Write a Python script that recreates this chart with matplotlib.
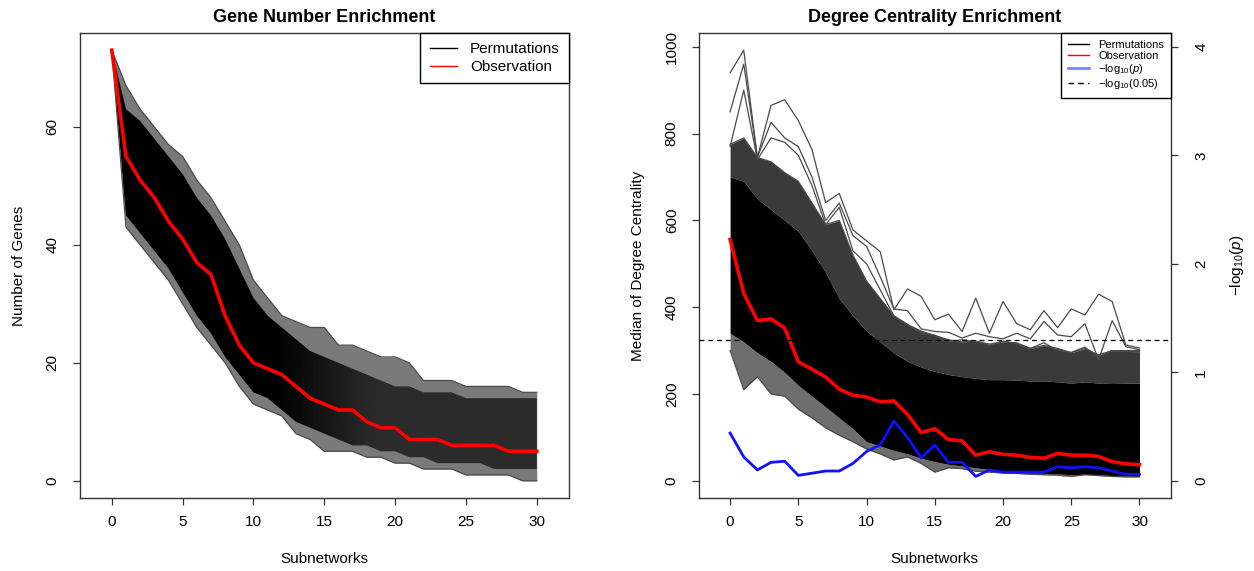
#!/usr/bin/env python3
"""
Gene number / degree centrality enrichment across subnetworks
(permutations vs. observation), redrawn with matplotlib.
"""

import numpy as np
import matplotlib
matplotlib.use("Agg")
import matplotlib.pyplot as plt
from matplotlib.lines import Line2D

plt.rcParams['font.family'] = ['Liberation Sans', 'DejaVu Sans']
plt.rcParams['mathtext.fontset'] = 'custom'
plt.rcParams['mathtext.rm'] = 'Liberation Sans'
plt.rcParams['mathtext.it'] = 'Liberation Sans:italic'

# ---------------- data ----------------
subnetworks = list(range(31))

# Gene Number Enrichment
gene_obs = [73, 55, 51, 48, 44, 41, 37, 35, 28, 23, 20, 19, 18, 16, 14, 13,
            12, 12, 10, 9, 9, 7, 7, 7, 6, 6, 6, 6, 5, 5, 5]
gene_perm_max = [73, 67, 63, 60, 57, 55, 51, 48, 44, 40, 34, 31, 28, 27, 26, 26,
                 23, 23, 22, 21, 21, 20, 17, 17, 17, 16, 16, 16, 16, 15, 15]
gene_perm_core_hi = [73, 63, 61, 58, 55, 52, 48, 45, 41, 36, 31, 28, 26, 24, 22, 21,
                     20, 19, 18, 17, 16, 16, 15, 15, 15, 14, 14, 14, 14, 14, 14]
gene_perm_core_lo = [73, 45, 42, 39, 36, 32, 28, 25, 21, 18, 15, 14, 12, 10, 9, 8,
                     7, 6, 6, 5, 5, 4, 4, 3, 3, 3, 3, 2, 2, 2, 2]
gene_perm_min = [73, 43, 40, 37, 34, 30, 26, 23, 20, 16, 13, 12, 11, 8, 7, 5,
                 5, 5, 4, 4, 3, 3, 2, 2, 2, 1, 1, 1, 1, 0, 0]

# Degree Centrality Enrichment
deg_obs = [556, 432, 369, 373, 352, 274, 257, 239, 211, 197, 193, 182, 184, 153, 111, 120,
           95, 92, 59, 67, 61, 59, 54, 52, 63, 59, 59, 56, 44, 39, 37]
deg_neglog_p = [0.44, 0.22, 0.10, 0.17, 0.18, 0.05, 0.07, 0.09, 0.09, 0.16, 0.27, 0.33,
                0.55, 0.40, 0.21, 0.33, 0.17, 0.17, 0.04, 0.10, 0.08, 0.08, 0.08, 0.08,
                0.13, 0.12, 0.13, 0.12, 0.09, 0.06, 0.06]
deg_perm_peak_a = [940, 992, 745, 865, 878, 830, 763, 641, 662, 578, 553, 528, 394, 442, 425, 371,
                   384, 344, 421, 340, 413, 362, 348, 392, 353, 396, 382, 430, 413, 313, 306]
deg_perm_peak_b = [850, 960, 745, 826, 790, 770, 700, 600, 640, 565, 540, 470, 396, 392, 350, 344,
                   342, 329, 340, 332, 327, 340, 327, 367, 336, 332, 362, 279, 369, 309, 302]
deg_perm_peak_c = [770, 900, 740, 790, 780, 750, 680, 590, 630, 530, 500, 440, 380, 360, 340, 335,
                   320, 325, 320, 312, 322, 315, 305, 318, 300, 296, 308, 285, 300, 298, 295]
deg_perm_band_hi = [775, 790, 745, 735, 710, 690, 640, 590, 600, 520, 460, 420, 380, 360, 345, 335,
                    325, 320, 322, 315, 320, 318, 305, 312, 305, 295, 305, 290, 300, 300, 300]
deg_perm_core_hi = [700, 690, 650, 625, 600, 575, 530, 480, 420, 380, 345, 320, 295, 275, 262, 252,
                    245, 240, 236, 233, 233, 232, 230, 230, 228, 225, 228, 225, 226, 225, 225]
deg_perm_core_lo = [340, 320, 295, 275, 250, 220, 195, 170, 145, 120, 90, 80, 70, 62, 52, 44,
                    38, 34, 30, 26, 22, 20, 18, 17, 16, 14, 15, 14, 12, 11, 10]
deg_perm_min = [300, 210, 240, 200, 195, 165, 145, 122, 105, 90, 73, 62, 48, 55, 40, 20,
                30, 28, 22, 20, 18, 17, 15, 14, 13, 10, 14, 12, 10, 9, 9]
sig_level = 0.05

x_ticks = [0, 5, 10, 15, 20, 25, 30]
gene_y_ticks = [0, 20, 40, 60]
deg_y_ticks = [0, 200, 400, 600, 800, 1000]
p_y_ticks = [0, 1, 2, 3, 4]

PERM_GREY = '#4a4a4a'
AX_COLOR = '#333333'
XLIM = (-2.28, 32.28)


def r_style(ax, yticks):
    """R base-graphics look: full box, outward ticks, vertical y labels."""
    for sp in ax.spines.values():
        sp.set_linewidth(1.0)
        sp.set_color(AX_COLOR)
    ax.set_xlim(*XLIM)
    ax.set_xticks(x_ticks)
    ax.set_yticks(yticks)
    ax.tick_params(axis='x', length=5, width=0.9, pad=7.5, labelsize=11, color=AX_COLOR)
    ax.tick_params(axis='y', length=5, width=0.9, pad=9.5, labelsize=11,
                   labelrotation=90, color=AX_COLOR)
    for lab in ax.get_yticklabels():
        lab.set_va('center')


fig = plt.figure(figsize=(12.54, 5.71), dpi=100)
x = np.array(subnetworks)

# ========== Left: Gene Number Enrichment ==========
ax1 = fig.add_axes([0.0634, 0.1278, 0.3904, 0.8144])
gene_ylim = (-2.92, 75.92)
ax1.fill_between(x, gene_perm_min, gene_perm_max, color='#7a7a7a', lw=0)
# dense part of the bundle: solid black early, fading to striped dark grey later
core = ax1.fill_between(x, gene_perm_core_lo, gene_perm_core_hi, color='none', lw=0)
shade_x = np.linspace(XLIM[0], XLIM[1], 300)
shade = np.clip((shade_x - 11.5) / 7.0, 0, 1) * 0.17
img = ax1.imshow(shade[np.newaxis, :], extent=(XLIM[0], XLIM[1], gene_ylim[0], gene_ylim[1]),
                 aspect='auto', cmap='gray', vmin=0, vmax=1, zorder=1.5)
img.set_clip_path(core.get_paths()[0], transform=ax1.transData)
ax1.plot(x, gene_perm_max, color=PERM_GREY, lw=0.9)
ax1.plot(x, gene_perm_min, color=PERM_GREY, lw=0.9)
ax1.plot(x, gene_obs, color='red', lw=2.6, zorder=3)
ax1.set_ylim(*gene_ylim)
r_style(ax1, gene_y_ticks)
ax1.set_title('Gene Number Enrichment', fontsize=13, fontweight='bold', pad=8)
ax1.set_xlabel('Subnetworks', fontsize=11, labelpad=16)
ax1.set_ylabel('Number of Genes', fontsize=11, labelpad=14)

handles1 = [Line2D([], [], color='black', lw=1),
            Line2D([], [], color='red', lw=1)]
leg1 = ax1.legend(handles1, ['Permutations', 'Observation'], loc='upper right',
                  borderaxespad=0, fontsize=11, fancybox=False, framealpha=1,
                  edgecolor='black', handlelength=1.8, borderpad=0.6,
                  labelspacing=0.25, handletextpad=0.85)
leg1.get_frame().set_linewidth(1.0)

# ========== Right: Degree Centrality Enrichment ==========
ax3 = fig.add_axes([0.5574, 0.1278, 0.3761, 0.8144])
deg_ylim = (-39.7, 1031.7)
ax3.fill_between(x, deg_perm_min, deg_perm_core_lo, color='#6e6e6e', lw=0)
ax3.fill_between(x, deg_perm_core_hi, deg_perm_band_hi, color='#3a3a3a', lw=0)
ax3.fill_between(x, deg_perm_core_lo, deg_perm_core_hi, color='black', lw=0)
for line in (deg_perm_peak_a, deg_perm_peak_b, deg_perm_peak_c,
             deg_perm_band_hi, deg_perm_min):
    ax3.plot(x, line, color=PERM_GREY, lw=0.9)
ax3.plot(x, deg_obs, color='red', lw=2.6, zorder=5)
ax3.set_ylim(*deg_ylim)
r_style(ax3, deg_y_ticks)
ax3.set_title('Degree Centrality Enrichment', fontsize=13, fontweight='bold', pad=8)
ax3.set_xlabel('Subnetworks', fontsize=11, labelpad=16)
ax3.set_ylabel('Median of Degree Centrality', fontsize=11, labelpad=14)

# secondary axis: -log10(p), same scale as the left one divided by 250
ax4 = ax3.twinx()
ax4.set_ylim(deg_ylim[0] / 250, deg_ylim[1] / 250)
ax4.plot(x, deg_neglog_p, color='#1010ff', lw=2.0, zorder=6)
ax4.axhline(-np.log10(sig_level), color='black', lw=0.9, linestyle=(0, (4, 3)))
ax4.set_yticks(p_y_ticks)
ax4.tick_params(axis='y', length=5, width=0.9, pad=12, labelsize=11,
                labelrotation=90, color=AX_COLOR)
for lab in ax4.get_yticklabels():
    lab.set_va('center')
ax4.set_ylabel('\u2212log$_{10}$($p$)', fontsize=11, labelpad=14, rotation=90)
for sp in ax4.spines.values():
    sp.set_visible(False)

handles2 = [Line2D([], [], color='black', lw=1),
            Line2D([], [], color='red', lw=1),
            Line2D([], [], color='blue', lw=2, alpha=0.5),
            Line2D([], [], color='black', lw=1, linestyle=(0, (4, 3)))]
labels2 = ['Permutations', 'Observation', '\u2212log$_{10}$($p$)', '\u2212log$_{10}$(0.05)']
leg2 = ax4.legend(handles2, labels2, loc='upper right', borderaxespad=0,
                  fontsize=8, fancybox=False, framealpha=1, edgecolor='black',
                  handlelength=1.9, borderpad=0.6, labelspacing=0.1,
                  handletextpad=0.8)
leg2.get_frame().set_linewidth(1.0)

plt.savefig('out.png', dpi=100)
